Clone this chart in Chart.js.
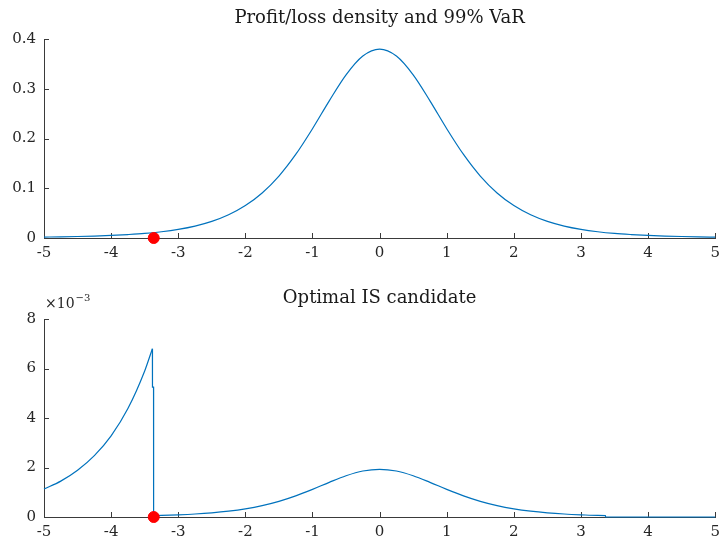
<!DOCTYPE html>
<html>
<head>
<meta charset="utf-8">
<script src="https://cdn.jsdelivr.net/npm/chart.js@4"></script>
<style>
  html,body{margin:0;padding:0;background:#fff;}
  #wrap{position:relative;width:726px;height:539px;}
  .pane{position:absolute;left:0;width:726px;}
</style>
</head>
<body>
<div id="wrap">
  <div class="pane" style="top:0;height:262px"><canvas id="cDensity"></canvas></div>
  <div class="pane" style="top:262px;height:277px"><canvas id="cIS"></canvas></div>
</div>
<script>
// --- data ---
const pnlX = [-5,-4.75,-4.5,-4.25,-4,-3.75,-3.5,-3.25,-3,-2.75,-2.5,-2.25,-2,-1.75,-1.5,-1.25,-1,-0.75,-0.5,-0.25,
              0,0.25,0.5,0.75,1,1.25,1.5,1.75,2,2.25,2.5,2.75,3,3.25,3.5,3.75,4,4.25,4.5,4.75,5];
const pnlDensity = [0.0018,0.0023,0.0030,0.0039,0.0051,0.0069,0.0092,0.0126,0.0173,0.0239,0.0333,0.0466,0.0651,0.0905,0.1245,0.1679,0.2197,0.2757,0.3279,0.3657,
                    0.3796,0.3657,0.3279,0.2757,0.2197,0.1679,0.1245,0.0905,0.0651,0.0466,0.0333,0.0239,0.0173,0.0126,0.0092,0.0069,0.0051,0.0039,0.0030,0.0023,0.0018];
const varLevel = -3.365;   // 99% VaR marker

// optimal IS candidate, values in units of 1e-3
const isTailX = [-5,-4.75,-4.5,-4.25,-4,-3.75,-3.5,-3.385];
const isTailY = [1.13,1.45,1.89,2.48,3.28,4.38,5.9,6.8];
const isDropX = [-3.385,-3.384,-3.368,-3.367];
const isDropY = [6.8,5.25,5.25,0.055];
const isBodyX = [-3.367,-3.25,-3,-2.75,-2.5,-2.25,-2,-1.75,-1.5,-1.25,-1,-0.75,-0.5,-0.25,
                 0,0.25,0.5,0.75,1,1.25,1.5,1.75,2,2.25,2.5,2.75,3,3.25,3.365,3.366,5];
const isBodyY = [0.055,0.064,0.088,0.121,0.169,0.237,0.331,0.46,0.632,0.853,1.116,1.401,1.666,1.858,
                 1.928,1.858,1.666,1.401,1.116,0.853,0.632,0.46,0.331,0.237,0.169,0.121,0.088,0.064,0.055,0,0];

const xTicks = [-5,-4,-3,-2,-1,0,1,2,3,4,5];
const densityTicks = [0,0.1,0.2,0.3,0.4];
const isTicks = [0,2,4,6,8];

const LINE = '#0072BD';
const AXIS = '#3a3a3a';
const TXT = '#262626';
const FONT = '"DejaVu Serif", serif';

const pts = (xs, ys) => xs.map((x, i) => ({x, y: ys[i]}));

// MATLAB-like inward tick marks
const inwardTicks = {
  id: 'inwardTicks',
  beforeDatasetsDraw(chart) {
    const {ctx, chartArea: a, scales: {x, y}} = chart;
    ctx.save();
    ctx.strokeStyle = AXIS;
    ctx.lineWidth = 1;
    ctx.beginPath();
    x.ticks.forEach(t => {
      const px = Math.round(x.getPixelForValue(t.value)) + 0.5;
      ctx.moveTo(px, a.bottom); ctx.lineTo(px, a.bottom - 5);
    });
    y.ticks.forEach(t => {
      const py = Math.round(y.getPixelForValue(t.value)) + 0.5;
      ctx.moveTo(a.left, py); ctx.lineTo(a.left + 5, py);
    });
    ctx.stroke();
    ctx.restore();
  }
};

// axes title centred over the plot area (not the whole canvas)
const axesTitle = {
  id: 'axesTitle',
  afterDraw(chart, args, opts) {
    const {ctx, chartArea: a} = chart;
    ctx.save();
    ctx.fillStyle = '#1a1a1a';
    ctx.font = '18px ' + FONT;
    ctx.textAlign = 'center';
    ctx.textBaseline = 'middle';
    ctx.fillText(opts.text, (a.left + a.right) / 2, opts.y);
    ctx.restore();
  }
};

// the x10^-3 exponent label over the lower y axis
const expLabel = {
  id: 'expLabel',
  afterDraw(chart) {
    const ctx = chart.ctx;
    ctx.save();
    ctx.fillStyle = TXT;
    ctx.textBaseline = 'alphabetic';
    ctx.textAlign = 'left';
    ctx.font = '14px ' + FONT;
    ctx.fillText('\u00d710', 45, 46);
    const w = ctx.measureText('\u00d710').width;
    ctx.font = '10px ' + FONT;
    ctx.fillText('\u22123', 45 + w + 1, 39);
    ctx.restore();
  }
};

function axisOpts(min, max, ticks, fmt, isX, fitSize) {
  return {
    type: 'linear', min, max,
    afterBuildTicks: s => { s.ticks = ticks.map(v => ({value: v})); },
    afterFit: s => { if (isX) s.height = fitSize; else s.width = fitSize; },
    grid: {display: true, drawOnChartArea: false, drawTicks: false},
    border: {display: true, color: AXIS, width: 1},
    ticks: {
      color: TXT, font: {family: FONT, size: 15}, padding: isX ? 6 : 8,
      autoSkip: false, maxRotation: 0, callback: fmt
    }
  };
}

const varDot = (y0) => ({
  type: 'scatter', data: [{x: varLevel, y: y0}], pointRadius: 5.5, pointBorderWidth: 1,
  backgroundColor: '#ff0000', borderColor: '#ff0000', clip: false
});
const curve = (data) => ({
  type: 'line', data, borderColor: LINE, borderWidth: 1.2, pointRadius: 0,
  cubicInterpolationMode: 'monotone', fill: false, clip: false
});

new Chart(document.getElementById('cDensity'), {
  data: {datasets: [varDot(0), curve(pts(pnlX, pnlDensity))]},
  options: {
    responsive: true, maintainAspectRatio: false, animation: false,
    layout: {padding: {left: 0, right: 5, top: 39, bottom: 0}},
    plugins: {legend: {display: false}, tooltip: {enabled: false},
      axesTitle: {text: 'Profit/loss density and 99% VaR', y: 18}},
    scales: {
      x: axisOpts(-5, 5, xTicks, v => String(v), true, 24),
      y: axisOpts(0, 0.4, densityTicks, v => v === 0 ? '0' : v.toFixed(1), false, 44)
    }
  },
  plugins: [inwardTicks, axesTitle]
});

const dropLine = curve(pts(isDropX, isDropY));
dropLine.cubicInterpolationMode = 'default';
dropLine.tension = 0;

new Chart(document.getElementById('cIS'), {
  data: {datasets: [varDot(0), curve(pts(isTailX, isTailY)), dropLine, curve(pts(isBodyX, isBodyY))]},
  options: {
    responsive: true, maintainAspectRatio: false, animation: false,
    layout: {padding: {left: 0, right: 5, top: 57, bottom: 0}},
    plugins: {legend: {display: false}, tooltip: {enabled: false},
      axesTitle: {text: 'Optimal IS candidate', y: 36}},
    scales: {
      x: axisOpts(-5, 5, xTicks, v => String(v), true, 22),
      y: axisOpts(0, 8, isTicks, v => String(v), false, 44)
    }
  },
  plugins: [inwardTicks, expLabel, axesTitle]
});
</script>
</body>
</html>
